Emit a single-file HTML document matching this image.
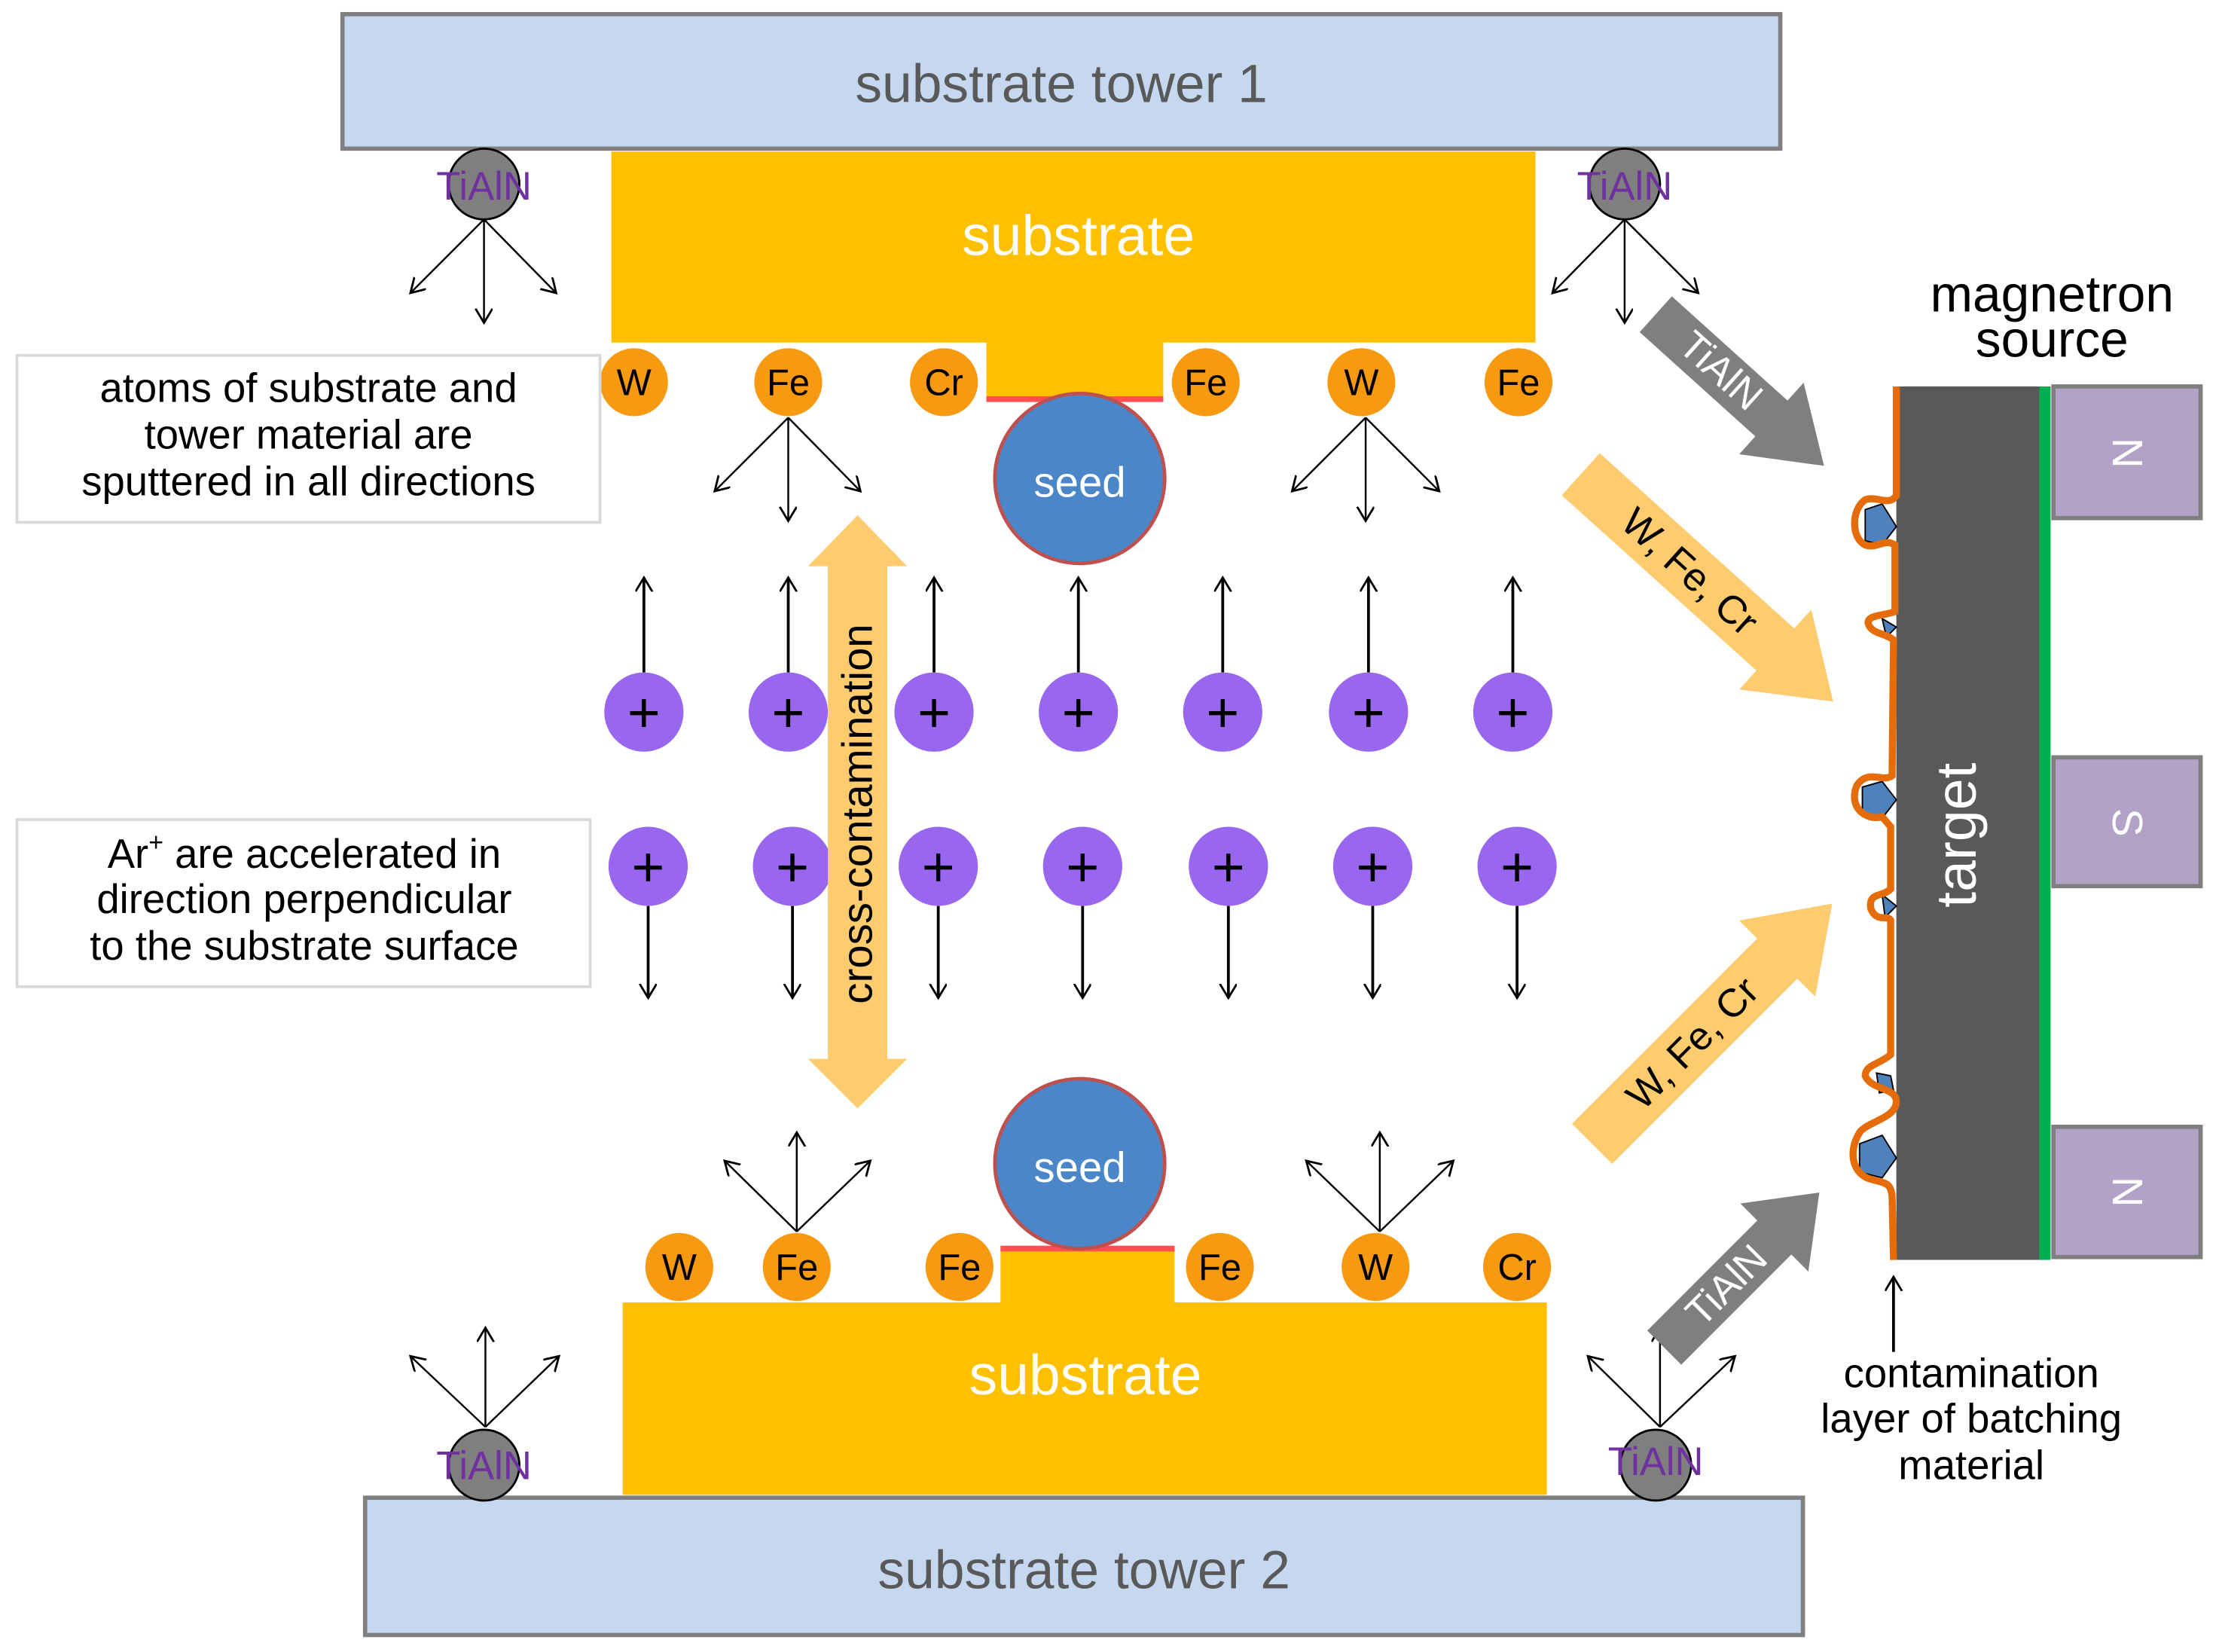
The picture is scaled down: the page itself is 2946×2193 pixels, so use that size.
<!DOCTYPE html>
<html><head><meta charset="utf-8"><style>
html,body{margin:0;padding:0;background:#fff;}
svg{display:block;}
text{font-family:"Liberation Sans","DejaVu Sans",sans-serif;}
</style></head><body>
<svg width="2946" height="2193" viewBox="0 0 1568 1167" preserveAspectRatio="none" xmlns="http://www.w3.org/2000/svg">
<defs>
<marker id="oa" markerWidth="14" markerHeight="14" refX="10" refY="6" orient="auto" markerUnits="userSpaceOnUse">
<path d="M0,0 L10,6 L0,12" fill="none" stroke="#000" stroke-width="1.5"/></marker>
</defs>
<rect x="242" y="10" width="1016" height="95" fill="#c5d8ef" stroke="#7f7f7f" stroke-width="3"/>
<text x="750" y="72" font-size="38" fill="#595959" text-anchor="middle">substrate tower 1</text>
<rect x="258" y="1058" width="1016" height="97" fill="#c5d8ef" stroke="#7f7f7f" stroke-width="3"/>
<text x="766" y="1122" font-size="38" fill="#595959" text-anchor="middle">substrate tower 2</text>
<path d="M432,107 H1085 V242 H822 V282 H697 V242 H432 Z" fill="#ffc000"/>
<line x1="697" y1="282" x2="822" y2="282" stroke="#ff4f4f" stroke-width="4"/>
<text x="762" y="180" font-size="40" fill="#fff" text-anchor="middle">substrate</text>
<path d="M440,920 H707 V882 H830 V920 H1093 V1056 H440 Z" fill="#ffc000"/>
<line x1="707" y1="882" x2="830" y2="882" stroke="#ff4f4f" stroke-width="4"/>
<text x="767" y="985" font-size="40" fill="#fff" text-anchor="middle">substrate</text>
<circle cx="763" cy="338" r="60" fill="#4a86c8" stroke="#c0504d" stroke-width="2.5"/>
<text x="763" y="351" font-size="30" fill="#fff" text-anchor="middle">seed</text>
<circle cx="763" cy="822" r="60" fill="#4a86c8" stroke="#c0504d" stroke-width="2.5"/>
<text x="763" y="835" font-size="30" fill="#fff" text-anchor="middle">seed</text>
<g font-size="26" text-anchor="middle" fill="#000">
<g fill="#f79a12">
<circle cx="448" cy="270" r="24"/><circle cx="557" cy="270" r="24"/><circle cx="667" cy="270" r="24"/>
<circle cx="852" cy="270" r="24"/><circle cx="962" cy="270" r="24"/><circle cx="1073" cy="270" r="24"/>
<circle cx="480" cy="895" r="24"/><circle cx="563" cy="895" r="24"/><circle cx="678" cy="895" r="24"/>
<circle cx="862" cy="895" r="24"/><circle cx="972" cy="895" r="24"/><circle cx="1072" cy="895" r="24"/>
</g>
<text x="448" y="279">W</text><text x="557" y="279">Fe</text><text x="667" y="279">Cr</text>
<text x="852" y="279">Fe</text><text x="962" y="279">W</text><text x="1073" y="279">Fe</text>
<text x="480" y="904">W</text><text x="563" y="904">Fe</text><text x="678" y="904">Fe</text>
<text x="862" y="904">Fe</text><text x="972" y="904">W</text><text x="1072" y="904">Cr</text>
</g>
<g stroke="#000" stroke-width="1.3" marker-end="url(#oa)">
<line x1="342" y1="155" x2="290" y2="207"/><line x1="342" y1="155" x2="342" y2="228"/><line x1="342" y1="155" x2="393" y2="207"/>
<line x1="1148" y1="155" x2="1097" y2="207"/><line x1="1148" y1="155" x2="1148" y2="228"/><line x1="1148" y1="155" x2="1200" y2="207"/>
<line x1="557" y1="295" x2="505" y2="347"/><line x1="557" y1="295" x2="557" y2="368"/><line x1="557" y1="295" x2="608" y2="347"/>
<line x1="965" y1="295" x2="913" y2="347"/><line x1="965" y1="295" x2="965" y2="368"/><line x1="965" y1="295" x2="1017" y2="347"/>
<line x1="563" y1="870" x2="512" y2="820"/><line x1="563" y1="870" x2="563" y2="800"/><line x1="563" y1="870" x2="615" y2="820"/>
<line x1="975" y1="870" x2="923" y2="820"/><line x1="975" y1="870" x2="975" y2="800"/><line x1="975" y1="870" x2="1027" y2="820"/>
<line x1="343" y1="1008" x2="290" y2="958"/><line x1="343" y1="1008" x2="343" y2="938"/><line x1="343" y1="1008" x2="395" y2="958"/>
<line x1="1173" y1="1008" x2="1122" y2="958"/><line x1="1173" y1="1008" x2="1173" y2="938"/><line x1="1173" y1="1008" x2="1226" y2="958"/>
</g>
<g fill="#7f7f7f" stroke="#000" stroke-width="1.5">
<circle cx="342" cy="130" r="25"/><circle cx="1148" cy="130" r="25"/>
<circle cx="342" cy="1035" r="25"/><circle cx="1170" cy="1035" r="25"/>
</g>
<g font-size="28" fill="#7030a0" text-anchor="middle">
<text x="342" y="141">TiAlN</text><text x="1148" y="141">TiAlN</text>
<text x="342" y="1045">TiAlN</text><text x="1170" y="1042">TiAlN</text>
</g>
<g stroke="#000" stroke-width="2" marker-end="url(#oa)">
<line x1="455" y1="475" x2="455" y2="408"/><line x1="557" y1="475" x2="557" y2="408"/><line x1="660" y1="475" x2="660" y2="408"/>
<line x1="762" y1="475" x2="762" y2="408"/><line x1="864" y1="475" x2="864" y2="408"/><line x1="967" y1="475" x2="967" y2="408"/>
<line x1="1069" y1="475" x2="1069" y2="408"/>
<line x1="458" y1="640" x2="458" y2="705"/><line x1="560" y1="640" x2="560" y2="705"/><line x1="663" y1="640" x2="663" y2="705"/>
<line x1="765" y1="640" x2="765" y2="705"/><line x1="868" y1="640" x2="868" y2="705"/><line x1="970" y1="640" x2="970" y2="705"/>
<line x1="1072" y1="640" x2="1072" y2="705"/>
</g>
<g fill="#9966ee">
<circle cx="455" cy="503" r="28"/><circle cx="557" cy="503" r="28"/><circle cx="660" cy="503" r="28"/><circle cx="762" cy="503" r="28"/>
<circle cx="864" cy="503" r="28"/><circle cx="967" cy="503" r="28"/><circle cx="1069" cy="503" r="28"/>
<circle cx="458" cy="612" r="28"/><circle cx="560" cy="612" r="28"/><circle cx="663" cy="612" r="28"/><circle cx="765" cy="612" r="28"/>
<circle cx="868" cy="612" r="28"/><circle cx="970" cy="612" r="28"/><circle cx="1072" cy="612" r="28"/>
</g>
<g font-size="40" text-anchor="middle" fill="#000">
<text x="455" y="517">+</text><text x="557" y="517">+</text><text x="660" y="517">+</text><text x="762" y="517">+</text>
<text x="864" y="517">+</text><text x="967" y="517">+</text><text x="1069" y="517">+</text>
<text x="458" y="626">+</text><text x="560" y="626">+</text><text x="663" y="626">+</text><text x="765" y="626">+</text>
<text x="868" y="626">+</text><text x="970" y="626">+</text><text x="1072" y="626">+</text>
</g>
<path d="M606,364 L641,400 L627,400 L627,748 L641,748 L606,783 L571,748 L585,748 L585,400 L571,400 Z" fill="#fecb6e"/>
<text transform="translate(616,575) rotate(-90)" font-size="30" text-anchor="middle" fill="#000">cross-contamination</text>
<rect x="12" y="251" width="412" height="118" fill="#fff" stroke="#d9d9d9" stroke-width="2"/>
<g font-size="29" text-anchor="middle" fill="#000">
<text x="218" y="284">atoms of substrate and</text>
<text x="218" y="317">tower material are</text>
<text x="218" y="350">sputtered in all directions</text>
</g>
<rect x="12" y="579" width="405" height="118" fill="#fff" stroke="#d9d9d9" stroke-width="2"/>
<g font-size="29" text-anchor="middle" fill="#000">
<text x="215" y="613">Ar<tspan font-size="18" dy="-12">+</tspan><tspan dy="12"> are accelerated in</tspan></text>
<text x="215" y="645">direction perpendicular</text>
<text x="215" y="678">to the substrate surface</text>
</g>
<g>
<path d="M0,-17 L110,-17 L110,-34 L160,0 L110,34 L110,17 L0,17 Z" fill="#7f7f7f" transform="translate(1170,222) rotate(42)"/>
<text transform="translate(1216,262) rotate(42)" font-size="28" fill="#fff" text-anchor="middle" dominant-baseline="central">TiAlN</text>
<path d="M0,-20 L185,-20 L185,-38 L240,0 L185,38 L185,20 L0,20 Z" fill="#fecb6e" transform="translate(1117,335) rotate(42)"/>
<text transform="translate(1194,404) rotate(42)" font-size="28" fill="#000" text-anchor="middle" dominant-baseline="central">W, Fe, Cr</text>
<path d="M0,-20 L185,-20 L185,-38 L240,0 L185,38 L185,20 L0,20 Z" fill="#fecb6e" transform="translate(1125,808) rotate(-45)"/>
<text transform="translate(1196,737) rotate(-45)" font-size="28" fill="#000" text-anchor="middle" dominant-baseline="central">W, Fe, Cr</text>
<path d="M0,-17 L110,-17 L110,-34 L155,0 L110,34 L110,17 L0,17 Z" fill="#7f7f7f" transform="translate(1176,952) rotate(-45)"/>
<text transform="translate(1220,908) rotate(-45)" font-size="28" fill="#fff" text-anchor="middle" dominant-baseline="central">TiAlN</text>
</g>
<text x="1450" y="220" font-size="36" text-anchor="middle" fill="#000">magnetron</text>
<text x="1450" y="252" font-size="36" text-anchor="middle" fill="#000">source</text>
<rect x="1340" y="273" width="103" height="617" fill="#595959"/>
<rect x="1441" y="273" width="8" height="617" fill="#00b050"/>
<text transform="translate(1396,590) rotate(-90)" font-size="40" fill="#fff" text-anchor="middle">target</text>
<g fill="#b3a2c7" stroke="#7f7f7f" stroke-width="3">
<rect x="1451" y="273" width="104" height="93"/><rect x="1451" y="535" width="104" height="91"/><rect x="1451" y="796" width="104" height="92"/>
</g>
<g font-size="30" fill="#fff" text-anchor="middle">
<text transform="translate(1493,320) rotate(90)">N</text>
<text transform="translate(1493,581) rotate(90)">S</text>
<text transform="translate(1493,842) rotate(90)">N</text>
</g>
<g fill="#4f81bd" stroke="#000" stroke-width="1">
<path d="M1318,360 L1330,356 L1340,372 L1330,385 L1318,382 Z"/>
<path d="M1330,437 L1340,443 L1333,450 Z"/>
<path d="M1316,556 L1330,552 L1340,565 L1330,578 L1316,575 Z"/>
<path d="M1330,632 L1340,640 L1332,648 Z"/>
<path d="M1326,758 L1336,760 L1338,770 L1328,772 Z"/>
<path d="M1314,808 L1330,802 L1340,818 L1330,832 L1314,828 Z"/>
</g>
<path d="M1340,273 L1340,350 C1335,358 1326,350 1318,353 C1308,360 1308,380 1318,385 C1326,388 1332,380 1339,385 L1339,432 C1332,435 1320,434 1320,440 C1322,448 1332,447 1338,452 L1337,548 C1330,553 1320,543 1312,555 C1306,570 1318,580 1330,577 L1336,584 L1336,628 C1330,634 1320,630 1322,642 C1326,652 1334,646 1336,650 L1336,745 C1328,752 1318,752 1318,760 C1322,770 1340,768 1340,778 C1340,790 1320,792 1314,800 C1305,815 1310,830 1322,833 C1332,836 1336,835 1337,845 L1338,890" fill="none" stroke="#e46c0a" stroke-width="5"/>
<line x1="1338" y1="955" x2="1338" y2="902" stroke="#000" stroke-width="2" marker-end="url(#oa)"/>
<g font-size="29" text-anchor="middle" fill="#000">
<text x="1393" y="980">contamination</text>
<text x="1393" y="1012">layer of batching</text>
<text x="1393" y="1045">material</text>
</g>
</svg>
</body></html>
